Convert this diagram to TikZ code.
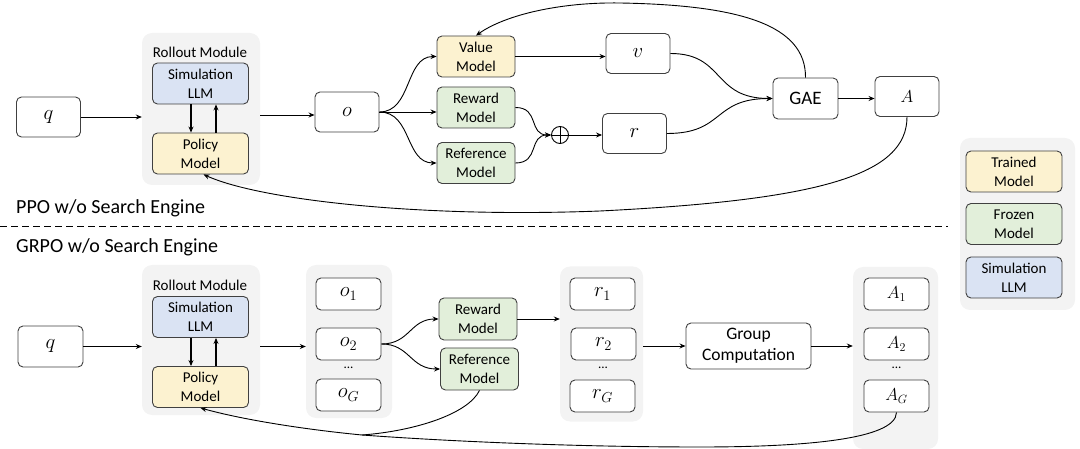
\documentclass[tikz,border=0pt]{standalone}
\usepackage{fontspec}
\setmainfont{Carlito}
\usetikzlibrary{arrows.meta}
\definecolor{trained}{RGB}{252,242,208}
\definecolor{frozen}{RGB}{226,239,218}
\definecolor{simllm}{RGB}{218,227,243}
\definecolor{grpbg}{RGB}{243,243,243}
\definecolor{edge}{RGB}{64,64,64}
\begin{document}
\begin{tikzpicture}[x=1pt,y=-1pt,
  box/.style={draw=edge, line width=0.9pt, rounded corners=5pt, fill=white, align=center, inner sep=0pt, font=\fontsize{15}{19}\selectfont},
  mbox/.style={box, minimum width=64pt, minimum height=40pt, font=\fontsize{21}{24}\selectfont},
  sbox/.style={box, minimum width=65pt, minimum height=32pt, font=\fontsize{20}{24}\selectfont},
  abox/.style={box, minimum width=65pt, minimum height=32pt, font=\fontsize{18.5}{22}\selectfont},
  model/.style={box, minimum width=78pt, minimum height=41pt},
  rmodel/.style={box, minimum width=96pt, minimum height=41pt},
  grp/.style={fill=grpbg, rounded corners=10pt, inner sep=0pt},
  arr/.style={-{Stealth[length=6pt,width=5pt]}, line width=0.9pt},
  plain/.style={line width=0.9pt},
  thk/.style={-{Stealth[length=6pt,width=5pt]}, line width=1.5pt},
  lbl/.style={font=\fontsize{15}{19}\selectfont, inner sep=0pt},
  ttl/.style={font=\fontsize{20}{24}\selectfont, anchor=west, inner sep=0pt},
  dots/.style={font=\fontsize{13}{15}\selectfont, inner sep=0pt}
]
\useasboundingbox (0,0) rectangle (1080,449);

% ---------------- top: PPO ----------------
\node[grp, minimum width=118pt, minimum height=152pt] (roll1) at (201,109) {};
\node[lbl] (roll1t) at (200,52) {Rollout Module};
\node[rmodel, fill=simllm] (sim1) at (200.5,83.5) {Simulation\\LLM};
\node[rmodel, fill=trained] (pol1) at (200.5,153.5) {Policy\\Model};
\draw[thk] (sim1.south -| 191,0) -- (pol1.north -| 191,0);
\draw[thk] (pol1.north -| 216,0) -- (sim1.south -| 216,0);

\node[mbox] (q1) at (48.5,117) {$q$};
\node[mbox] (o1) at (347,112) {$o$};
\node[model, fill=trained] (val) at (476,56.5) {Value\\Model};
\node[model, fill=frozen] (rew1) at (476,107.5) {Reward\\Model};
\node[model, fill=frozen] (ref1) at (476,163) {Reference\\Model};
\node[circle, draw=black, line width=0.9pt, minimum size=17pt, inner sep=0pt] (plus) at (560,135) {};
\draw[line width=0.9pt] (plus.north) -- (plus.south) (plus.west) -- (plus.east);
\node[mbox] (v) at (638,53.5) {$v$};
\node[mbox] (r) at (634.5,133.5) {$r$};
\node[box, minimum width=65pt, minimum height=41pt, font=\fontsize{19}{23}\selectfont] (gae) at (805.5,98.5) {GAE};
\node[mbox, font=\fontsize{18.5}{22}\selectfont] (A) at (907,96.5) {$A$};

\draw[arr] (q1.east) -- (roll1.west |- q1.east);
\draw[arr] (roll1.east |- 0,115) -- (o1.west |- 0,115);
\draw[arr] (o1.east) .. controls (412,112) and (405,56.5) .. (val.west);
\draw[arr] (o1.east) -- (rew1.west |- o1.east);
\draw[arr] (o1.east) .. controls (412,112) and (405,163) .. (ref1.west);
\draw[arr] (rew1.east) .. controls (540,107.5) and (528,135) .. (plus.west);
\draw[arr] (ref1.east) .. controls (540,163) and (528,135) .. (plus.west);
\draw[arr] (plus.east) -- (r.west |- plus.east);
\draw[arr] (val.east) -- (v.west |- val.east);
\draw[arr] (v.east) .. controls (725,53.5) and (712,98.5) .. (gae.west);
\draw[arr] (r.east) .. controls (725,133.5) and (712,98.5) .. (gae.west);
\draw[arr] (gae.east) -- (A.west |- gae.east);
\draw[arr] (gae.north) .. controls (806,25) and (740,5) .. (620,3) .. controls (560,2) and (505,15) .. (val.north);
\draw[arr] (A.south) .. controls (907,175) and (820,200) .. (600,211) .. controls (420,218) and (260,200) .. ([xshift=3pt]pol1.south);

\node[ttl] (ppo) at (16,208) {PPO w/o Search Engine};
\draw[line width=1pt, dash pattern=on 7pt off 4pt] (0,227) -- (948,227);
\node[ttl] (grpo) at (16,247) {GRPO w/o Search Engine};

% ---------------- legend ----------------
\node[grp, minimum width=115pt, minimum height=172pt] (leg) at (1017.5,224) {};
\node[rmodel, fill=trained] (lt) at (1014,171.5) {Trained\\Model};
\node[rmodel, fill=frozen] (lf) at (1014,224) {Frozen\\Model};
\node[rmodel, fill=simllm] (ls) at (1014,277.5) {Simulation\\LLM};

% ---------------- bottom: GRPO ----------------
\node[grp, minimum width=118pt, minimum height=150pt] (roll2) at (201,340) {};
\node[lbl] (roll2t) at (200,285) {Rollout Module};
\node[rmodel, fill=simllm] (sim2) at (200.5,317) {Simulation\\LLM};
\node[rmodel, fill=trained] (pol2) at (200.5,387) {Policy\\Model};
\draw[thk] (sim2.south -| 191,0) -- (pol2.north -| 191,0);
\draw[thk] (pol2.north -| 216,0) -- (sim2.south -| 216,0);

\node[box, minimum width=65pt, minimum height=41pt, font=\fontsize{21}{24}\selectfont] (q2) at (50.5,346.5) {$q$};

\node[grp, minimum width=86pt, minimum height=153pt] (og) at (349,341.5) {};
\node[sbox] (oa) at (348.5,294) {$o_1$};
\node[sbox] (ob) at (348.5,344) {$o_2$};
\node[dots] (od) at (348.5,368) {...};
\node[sbox] (oc) at (348.5,395) {$o_G$};

\node[model, fill=frozen, minimum height=42pt] (rew2) at (478,319) {Reward\\Model};
\node[model, fill=frozen, minimum height=42pt] (ref2) at (479.5,369) {Reference\\Model};

\node[grp, minimum width=83pt, minimum height=155pt] (rg) at (601.5,344) {};
\node[sbox] (ra) at (602.5,294) {$r_1$};
\node[sbox] (rb) at (603.5,344) {$r_2$};
\node[dots] (rd) at (603,368) {...};
\node[sbox] (rc) at (602.5,396) {$r_G$};

\node[box, minimum width=125pt, minimum height=46pt, font=\fontsize{17.5}{21}\selectfont] (gc) at (748.5,346) {Group\\Computation};

\node[grp, minimum width=85pt, minimum height=182pt] (ag) at (895.5,358) {};
\node[abox] (aa) at (896.5,294) {$A_1$};
\node[abox] (ab) at (896.5,344) {$A_2$};
\node[dots] (ad) at (896.5,368) {...};
\node[abox] (ac) at (896.5,396) {$A_G$};

\coordinate (mrg) at (362,435);

\draw[arr] (q2.east) -- (roll2.west |- q2.east);
\draw[arr] (roll2.east |- q2.east) -- (og.west |- q2.east);
\draw[arr] (ob.east) .. controls (410,344) and (410,319) .. (rew2.west);
\draw[arr] (ob.east) .. controls (410,344) and (410,369) .. (ref2.west);
\draw[arr] (rew2.east) -- (rg.west |- rew2.east);
\draw[arr] (rg.east |- gc.west) -- (gc.west);
\draw[arr] (gc.east) -- (ag.west |- gc.east);
\draw[plain] (ref2.south) .. controls (468,414) and (415,431) .. (mrg);
\draw[plain] (ac.south) .. controls (896,440) and (800,447) .. (700,447) .. controls (560,447) and (430,440) .. (mrg);
\draw[arr] (mrg) .. controls (300,429) and (240,419) .. (pol2.south);
\end{tikzpicture}
\end{document}
